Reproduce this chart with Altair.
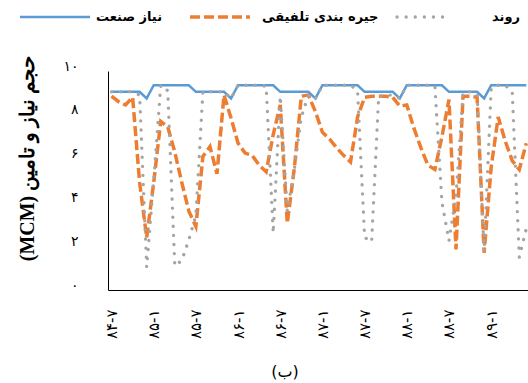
import altair as alt
import pandas as pd

# ---- data (monthly, starting ۸۴-۷) ----
month_index = list(range(60))

demand = [9.05, 9.05, 9.05, 9.05, 9.05, 8.75, 9.35, 9.35, 9.35, 9.35, 9.35, 9.35,
          9.05, 9.05, 9.05, 9.05, 9.05, 8.75, 9.35, 9.35, 9.35, 9.35, 9.35, 9.35,
          9.05, 9.05, 9.05, 9.05, 9.05, 8.75, 9.35, 9.35, 9.35, 9.35, 9.35, 9.35,
          9.05, 9.05, 9.05, 9.05, 9.05, 8.75, 9.35, 9.35, 9.35, 9.35, 9.35, 9.35,
          9.05, 9.05, 9.05, 9.05, 9.05, 8.75, 9.35, 9.35, 9.35, 9.35, 9.35, 9.35]

combined = [8.85, 8.6, 8.45, 8.8, 4.9, 2.4, 4.9, 7.7, 7.45, 6.3, 4.9, 3.6,
            2.9, 6.1, 6.55, 5.3, 8.9, 7.85, 6.7, 6.25, 6.15, 5.7, 5.4, 7.1,
            8.45, 3.05, 5.55, 8.85, 8.9, 8.15, 7.2, 6.9, 6.5, 6.15, 5.85, 7.9,
            8.8, 8.85, 8.85, 8.85, 8.8, 8.4, 8.45, 7.4, 6.5, 5.7, 5.5, 7.0,
            8.7, 1.85, 8.85, 8.85, 8.8, 1.7, 5.6, 7.9, 6.8, 5.9, 5.5, 6.7]

trend = [9.05, 9.05, 9.05, 9.05, 8.9, 1.05, 5.0, 9.35, 9.1, 1.1, 1.35, 2.3,
         3.4, 9.05, 9.05, 9.05, 9.05, 8.75, 9.35, 9.35, 9.35, 9.35, 9.3, 2.6,
         8.85, 3.6, 5.5, 7.9, 8.9, 8.75, 9.35, 9.35, 9.35, 9.35, 9.35, 9.1,
         2.4, 2.2, 8.85, 8.9, 8.9, 8.75, 9.35, 9.35, 9.35, 9.35, 9.3, 4.0,
         2.25, 4.3, 9.0, 9.05, 8.95, 1.75, 9.2, 9.35, 9.35, 9.05, 1.5, 2.8]

x_tick_values = [0, 6, 12, 18, 24, 30, 36, 42, 48, 54]
x_tick_labels = ["۸۴-۷", "۸۵-۱", "۸۵-۷", "۸۶-۱", "۸۶-۷",
                 "۸۷-۱", "۸۷-۷", "۸۸-۱", "۸۸-۷", "۸۹-۱"]
y_tick_values = [0, 2, 4, 6, 8, 10]
y_tick_labels = ["۰", "۲", "۴", "۶", "۸", "۱۰"]

series_names = ["نیاز صنعت", "جیره بندی تلفیقی", "روند"]
series_colors = ["#5B9BD5", "#ED7D31", "#A5A5A5"]
y_title = "(MCM) حجم نیاز و تامین"
bottom_title = "(ب)"

# ---- build table ----
rows = []
for name, vals in zip(series_names, [demand, combined, trend]):
    for k, v in zip(month_index, vals):
        rows.append({"k": k, "value": v, "series": name})
df = pd.DataFrame(rows)


def label_expr(values, labels):
    expr = "''"
    for v, l in reversed(list(zip(values, labels))):
        expr = f"datum.value == {v} ? '{l}' : ({expr})"
    return expr


x_enc = alt.X("k:Q",
              scale=alt.Scale(domain=[-0.5, 59.24], nice=False, zero=False),
              axis=alt.Axis(values=x_tick_values,
                            labelExpr=label_expr(x_tick_values, x_tick_labels),
                            labelAngle=270, labelFlush=False, labelFontSize=15,
                            labelFont="DejaVu Sans", labelColor="black",
                            labelPadding=19, ticks=False, grid=False,
                            domainColor="black", domainWidth=1, title=None))
y_enc = alt.Y("value:Q",
              scale=alt.Scale(domain=[0, 10], nice=False, zero=True),
              axis=alt.Axis(values=y_tick_values,
                            labelExpr=label_expr(y_tick_values, y_tick_labels),
                            labelFontSize=14, labelFont="DejaVu Sans",
                            labelColor="black", labelPadding=30, labelOffset=-5,
                            ticks=False, grid=False, domainColor="black",
                            domainWidth=1, title=y_title,
                            titleFont="Liberation Serif", titleFontSize=20,
                            titleFontWeight="bold", titleColor="black",
                            titleAngle=270, titleAlign="center",
                            titleBaseline="middle", titleX=-81, titleY=87))

base = alt.Chart(df)

line_blue = base.transform_filter(alt.datum.series == series_names[0]).mark_line(
    color=series_colors[0], strokeWidth=2.5, clip=True).encode(x=x_enc, y=y_enc)
line_orange = base.transform_filter(alt.datum.series == series_names[1]).mark_line(
    color=series_colors[1], strokeWidth=3.5, strokeDash=[10, 4], clip=True).encode(x=x_enc, y=y_enc)
line_gray = base.transform_filter(alt.datum.series == series_names[2]).mark_line(
    color=series_colors[2], strokeWidth=3.3, strokeDash=[0.1, 9], strokeCap="round",
    clip=True).encode(x=x_enc, y=y_enc)

# ---- manual legend (top row) ----
leg_y = -54
legend_layers = []
sym_specs = [
    (0, 20, 90, {}),
    (1, 190, 250, {"strokeDash": [10, 4]}),
    (2, 397, 447, {"strokeDash": [0.1, 9], "strokeCap": "round"}),
]
text_x = [96, 262, 492]
widths = [2.5, 3.5, 3.3]
for (i, x1, x2, extra), tx in zip(sym_specs, text_x):
    d = alt.Data(values=[{"name": series_names[i]}])
    legend_layers.append(
        alt.Chart(d).mark_rule(color=series_colors[i], strokeWidth=widths[i], **extra).encode(
            x=alt.value(x1 - 108), x2=alt.value(x2 - 108), y=alt.value(leg_y)))
    legend_layers.append(
        alt.Chart(d).mark_text(align="left", baseline="middle", fontSize=13,
                               fontWeight="bold", font="DejaVu Sans",
                               color="black").encode(
            x=alt.value(tx - 108), y=alt.value(leg_y), text="name:N"))

title_layer = alt.Chart(alt.Data(values=[{"t": bottom_title}])).mark_text(
    align="center", baseline="middle", fontSize=16, font="DejaVu Sans", color="black"
).encode(x=alt.value(285 - 108), y=alt.value(372 - 71), text="t:N")

chart = alt.layer(line_blue, line_orange, line_gray, *legend_layers, title_layer).properties(
    width=420, height=219,
    autosize=alt.AutoSizeParams(type="none"),
    padding={"left": 108, "top": 71, "right": 0, "bottom": 93},
    background="white",
).configure_view(stroke=None)

chart.save("out.html", embed_options={"renderer": "svg", "actions": False})
